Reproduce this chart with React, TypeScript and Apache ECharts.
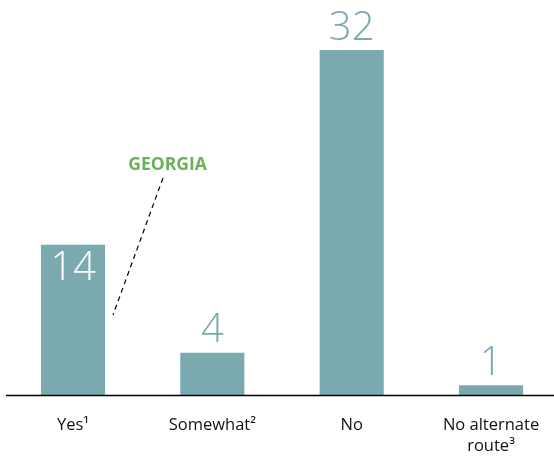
import React, { useEffect, useRef } from "react";
import * as echarts from "echarts";

const categories = ["Yes¹", "Somewhat²", "No", "No alternate\nroute³"];
const values = [14, 4, 32, 1];
const annotationText = "GEORGIA";

const BAR = "#7aaab0";
const GREEN = "#6ab15a";
const FONT = "'Open Sans', 'Noto Sans', sans-serif";

export default function App() {
  const ref = useRef<HTMLDivElement>(null);
  useEffect(() => {
    if (!ref.current) return;
    const chart = echarts.init(ref.current, null, { renderer: "svg" });
    chart.setOption({
      animation: false,
      grid: { left: 3.3, top: 50, width: 557.4, bottom: 61, containLabel: false },
      xAxis: {
        type: "category",
        data: categories,
        axisLine: { show: false },
        axisTick: { show: false },
        axisLabel: {
          color: "#111",
          fontFamily: FONT,
          fontSize: 16.5,
          lineHeight: 21,
          margin: 17,
          interval: 0,
        },
      },
      yAxis: {
        type: "value",
        min: 0,
        max: 32,
        show: false,
        splitLine: { show: false },
      },
      series: [
        {
          type: "bar",
          data: values.map((v, i) => ({
            value: v,
            label:
              i === 0
                ? { position: "insideTop", color: "#ffffff", distance: 3 }
                : { position: "top", color: BAR, distance: 9 },
          })),
          barWidth: "46%",
          itemStyle: { color: BAR },
          label: {
            show: true,
            fontFamily: FONT,
            fontWeight: 300,
            fontSize: 40,
            lineHeight: 34,
          },
        },
      ],
      graphic: [
        {
          type: "line",
          shape: { x1: 6, y1: 395.5, x2: 554, y2: 395.5 },
          style: { stroke: "#000", lineWidth: 1.3 },
          z: 10,
        },
        {
          type: "line",
          shape: { x1: 163, y1: 178, x2: 113, y2: 315 },
          style: { stroke: "#000", lineWidth: 1.2, lineDash: [5, 4] },
        },
        {
          type: "text",
          x: 167.5,
          y: 163,
          style: {
            text: annotationText,
            fill: GREEN,
            font: `bold 17.5px ${FONT}`,
            textAlign: "center",
            textVerticalAlign: "middle",
          },
        },
      ],
    });
    return () => chart.dispose();
  }, []);
  return (
    <div style={{ position: "fixed", left: 0, top: 0, width: 554, height: 457, overflow: "hidden" }}>
      <div ref={ref} style={{ width: 564, height: 457 }} />
    </div>
  );
}
